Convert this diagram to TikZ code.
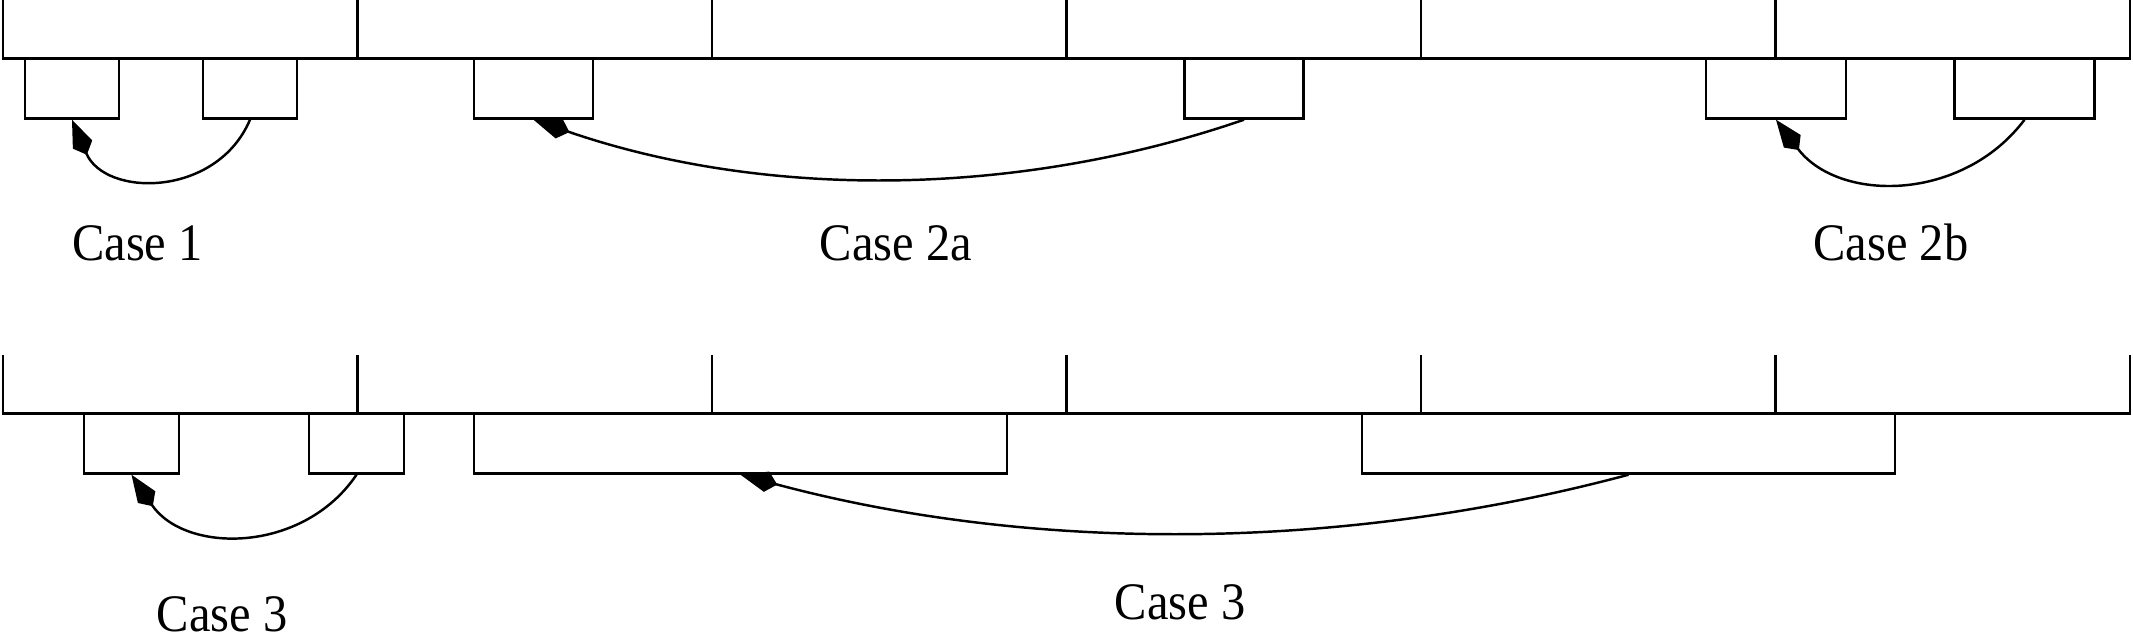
\documentclass[tikz,border=0pt]{standalone}
\usepackage{fontspec}
\setmainfont{Liberation Serif}
\usetikzlibrary{arrows.meta,positioning}
\tikzset{
slotbox/.style={
  draw,
  line width=0.7pt,
  inner sep=0pt,
  minimum height=0.6cm
  },
caselabel/.style={
  font=\fontsize{15}{18}\selectfont,
  anchor=base,
  xscale=0.92
  }
}

\begin{document}
\begin{tikzpicture}[>={Kite[length=3.8mm,width=2.1mm,inset=1.1mm]}, line width=0.7pt]
\useasboundingbox (0,0) rectangle (21.33,6.44);

% upper row of cells
\draw[line width=0.8pt] (0.03,6.44) -- (0.03,5.855) -- (21.30,5.855) -- (21.30,6.44);
\draw (3.575,6.44) -- (3.575,5.855);
\draw (7.12,6.44) -- (7.12,5.855);
\draw (10.665,6.44) -- (10.665,5.855);
\draw (14.21,6.44) -- (14.21,5.855);
\draw (17.755,6.44) -- (17.755,5.855);

% lower row of cells
\draw[line width=0.8pt] (0.03,2.89) -- (0.03,2.305) -- (21.30,2.305) -- (21.30,2.89);
\draw (3.575,2.89) -- (3.575,2.305);
\draw (7.12,2.89) -- (7.12,2.305);
\draw (10.665,2.89) -- (10.665,2.305);
\draw (14.21,2.89) -- (14.21,2.305);
\draw (17.755,2.89) -- (17.755,2.305);

\node[slotbox, minimum width=0.94cm] (b1) at (0.72,5.555) {};
\node[slotbox, minimum width=0.94cm] (b2) at (2.50,5.555) {};
\node[slotbox, minimum width=1.19cm] (c1) at (5.335,5.555) {};
\node[slotbox, minimum width=1.19cm] (c2) at (12.44,5.555) {};
\node[slotbox, minimum width=1.40cm] (d1) at (17.76,5.555) {};
\node[slotbox, minimum width=1.40cm] (d2) at (20.245,5.555) {};

\node[slotbox, minimum width=0.95cm] (e1) at (1.315,2.005) {};
\node[slotbox, minimum width=0.95cm] (e2) at (3.565,2.005) {};
\node[slotbox, minimum width=5.33cm] (f1) at (7.405,2.005) {};
\node[slotbox, minimum width=5.33cm] (f2) at (16.285,2.005) {};

\draw[->]
  (b2.south) to[out=-113, in=-67, looseness=1.22] (b1.south);
\draw[->]
  (c2.south) to[out=-161, in=-19, looseness=0.875] (c1.south);
\draw[->]
  (d2.south) to[out=-127, in=-53, looseness=1.07] (d1.south);
\draw[->]
  (e2.south) to[out=-124, in=-56, looseness=1.09] (e1.south);
\draw[->]
  (f2.south) to[out=-165, in=-15, looseness=0.867] (f1.south);

\node[caselabel] (l1) at (1.375,3.83) {Case 1};
\node[caselabel] (l2a) at (8.96,3.83) {Case 2a};
\node[caselabel] (l2b) at (18.91,3.83) {Case 2b};
\node[caselabel] (l3a) at (2.22,0.12) {Case 3};
\node[caselabel] (l3b) at (11.80,0.24) {Case 3};
\end{tikzpicture}
\end{document}
